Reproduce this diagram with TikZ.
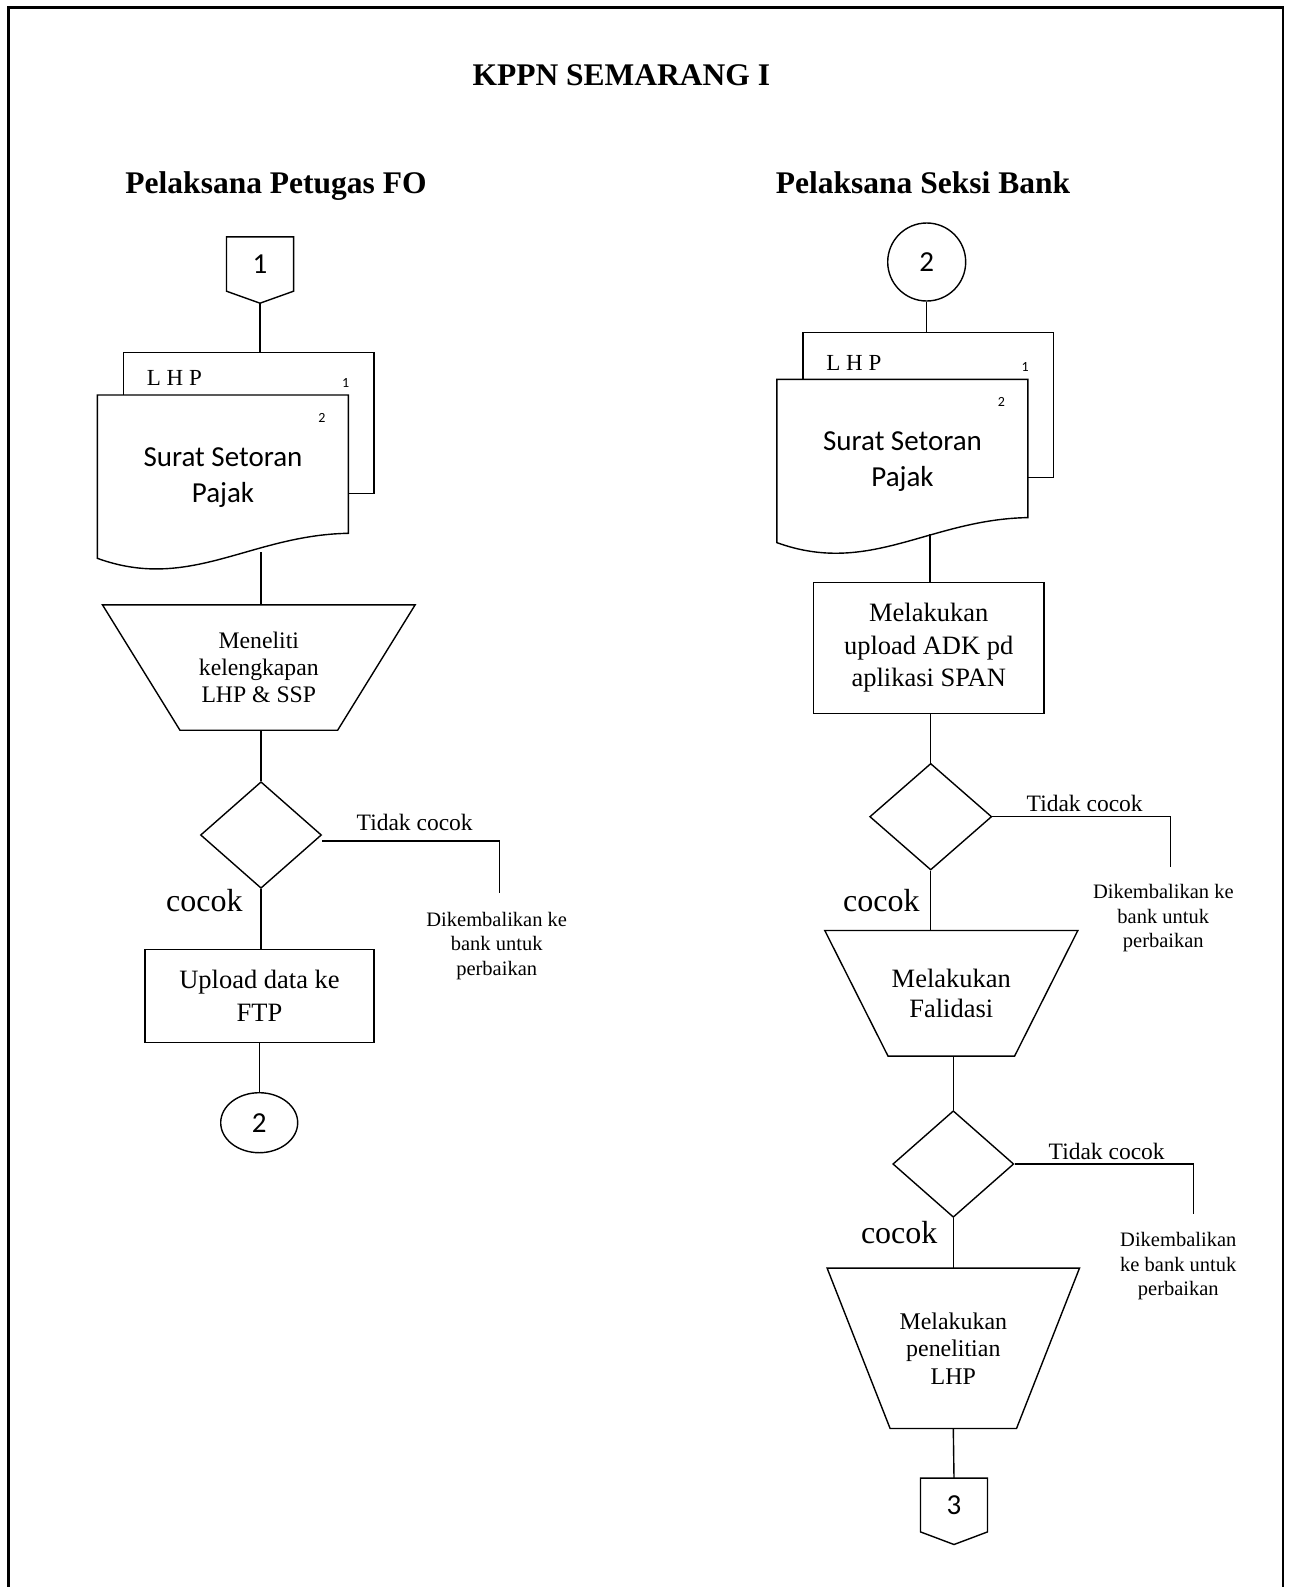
\documentclass[tikz,border=0pt]{standalone}
\usepackage{fontspec}
\setmainfont{Liberation Serif}
\newfontfamily\calibri{Carlito}
\usetikzlibrary{calc,shapes.geometric}
\tikzset{
  flow/.style={line width=1.4pt, draw=black},
  pageframe/.style={line width=2.4pt, draw=black},
  title/.style={inner sep=0pt, font=\fontsize{31.5}{36}\selectfont\bfseries},
  proc/.style={rectangle, draw=black, line width=1.4pt, inner sep=0pt, align=center,
    font=\fontsize{26.5}{32.5}\selectfont},
  trapbox/.style={rectangle, inner sep=0pt, align=center},
  decide/.style={diamond, draw=black, line width=1.4pt, inner sep=0pt,
    minimum width=121pt, minimum height=106.6pt},
  conn/.style={draw=black, line width=1.4pt, inner sep=0pt, font=\calibri\fontsize{29}{32}\selectfont},
  offpage/.style={rectangle, inner sep=0pt, minimum width=66.7pt, minimum height=54pt,
    font=\calibri\fontsize{29}{32}\selectfont},
  doctext/.style={inner sep=0pt, align=center, font=\calibri\fontsize{29}{36}\selectfont},
  pagenum/.style={inner sep=0pt, font=\calibri\fontsize{14}{16}\selectfont},
  lhp/.style={inner sep=0pt, font=\fontsize{23}{26}\selectfont},
  lbl/.style={inner sep=0pt, font=\fontsize{23.5}{27}\selectfont},
  yes/.style={inner sep=0pt, font=\fontsize{32}{36}\selectfont},
  note/.style={inner sep=0pt, align=center, font=\fontsize{20.5}{24.5}\selectfont}
}
\newcommand{\DrawTrap}[2]{% node, inset of the bottom edge
  \draw[flow] (#1.north west) -- (#1.north east) -- ($(#1.south east)+(-#2,0)$)
    -- ($(#1.south west)+(#2,0)$) -- cycle;
}
\newcommand{\DrawOffPage}[2]{% node, depth of the point
  \coordinate (#1-tip) at ($(#1.south)+(0,#2)$);
  \draw[flow] (#1.north west) -- (#1.north east) -- (#1.south east) -- (#1-tip)
    -- (#1.south west) -- cycle;
}
\newcommand{\DrawDocs}[4]{% name, dx, dy, lift of the back sheet
  \begin{scope}[shift={(#2,#3)}]
    \coordinate (#1-back) at (123.3,{352.7-#4});
    \draw[flow] (123.3,395) -- (#1-back) -- (374,{352.7-#4}) -- (374,493.3) -- (348.3,493.3);
    \draw[flow, fill=white] (97.3,395) -- (348.3,395) -- (348.3,533.3)
      .. controls (250,535) and (190,592) .. (97.3,558.3) -- cycle;
    \node[lhp, anchor=base west] (#1-lhp) at (146.7,385.7) {L H P};
    \node[pagenum] (#1-n1) at (345.7,382.7) {1};
    \node[pagenum] (#1-n2) at (322,418) {2};
    \node[doctext] (#1-txt) at (223,477.5) {Surat Setoran\\Pajak};
  \end{scope}
}

\begin{document}
\begin{tikzpicture}[x=1pt, y=-1pt]
  \useasboundingbox (0,0) rectangle (1288,1587);
  \draw[pageframe] (8.5,1595) -- (8.5,7.5) -- (1283,7.5) -- (1283,1595);

  % Headings
  \node[title, anchor=base] (head) at (621.3,85) {KPPN SEMARANG I};
  \node[title, anchor=base] (headfo) at (276,193) {Pelaksana Petugas FO};
  \node[title, anchor=base] (headsb) at (923,193) {Pelaksana Seksi Bank};

  % Pelaksana Petugas FO
  \node[offpage] (op1) at (260,264) {1};
  \DrawOffPage{op1}{12}
  \DrawDocs{fo}{0}{0}{0}
  \coordinate (fo-out) at (261,552);
  \node[trapbox, minimum width=312.3pt, minimum height=125pt,
    font=\fontsize{23.7}{27}\selectfont] (t1) at (258.8,667.5) {Meneliti\\kelengkapan\\LHP \& SSP};
  \DrawTrap{t1}{77.5}
  \node[decide] (d1) at (261,835) {};
  \node[proc, minimum width=229pt, minimum height=93.4pt] (b1) at (259.5,996) {Upload data ke\\FTP};
  \node[conn, ellipse, minimum width=77pt, minimum height=60pt] (e1) at (259.2,1122.7) {2};
  \coordinate (fo-ret) at (499.3,893.3);
  \draw[flow] (op1-tip) -- (op1-tip |- fo-back);
  \draw[flow] (fo-out) -- (fo-out |- t1.north);
  \draw[flow] (d1.north |- t1.south) -- (d1.north);
  \draw[flow] (d1.south) -- (d1.south |- b1.north);
  \draw[flow] (e1.north |- b1.south) -- (e1.north);
  \draw[flow] ([yshift=-6pt]d1.east) -| (fo-ret);
  \node[lbl, anchor=base] (fo-no) at (414.7,830) {Tidak cocok};
  \node[yes, anchor=base] (fo-yes) at (204.3,911.7) {cocok};
  \node[note] (fo-note) at (496.7,946) {Dikembalikan ke\\bank untuk\\perbaikan};

  % Pelaksana Seksi Bank
  \node[conn, circle, minimum size=78pt] (c2) at (926.7,262) {2};
  \DrawDocs{sb}{679.5}{-15.7}{4.3}
  \coordinate (sb-out) at (930,534);
  \node[proc, minimum width=230.7pt, minimum height=130.6pt] (b2) at (928.7,648)
    {Melakukan\\upload ADK pd\\aplikasi SPAN};
  \node[decide, minimum width=122pt] (d2) at (930.7,816.7) {};
  \node[trapbox, minimum width=252.7pt, minimum height=125.3pt,
    font=\fontsize{26.5}{30.5}\selectfont] (t2) at (951.3,993.3) {Melakukan\\Falidasi};
  \DrawTrap{t2}{63.3}
  \node[decide] (d3) at (953.3,1164) {};
  \node[trapbox, minimum width=252pt, minimum height=160pt,
    font=\fontsize{23.9}{27.5}\selectfont] (t3) at (953.3,1348.3) {Melakukan\\penelitian\\LHP};
  \DrawTrap{t3}{63}
  \node[offpage, minimum width=66.6pt, minimum height=53.4pt] (op3) at (954,1505) {3};
  \DrawOffPage{op3}{12.6}
  \coordinate (sb-ret1) at (1170.7,866.7);
  \coordinate (sb-ret2) at (1193.3,1214);
  \draw[flow] (c2.south) -- (c2.south |- sb-back);
  \draw[flow] (sb-out) -- (sb-out |- b2.north);
  \draw[flow] (d2.north |- b2.south) -- (d2.north);
  \draw[flow] (d2.south) -- (d2.south |- t2.north);
  \draw[flow] (d3.north |- t2.south) -- (d3.north);
  \draw[flow] (d3.south) -- (d3.south |- t3.north);
  \draw[flow] (t3.south) -- (op3.north);
  \draw[flow] (d2.east) -| (sb-ret1);
  \draw[flow] (d3.east) -| (sb-ret2);
  \node[lbl, anchor=base] (sb-no1) at (1084.7,811.7) {Tidak cocok};
  \node[yes, anchor=base] (sb-yes1) at (881.3,911.7) {cocok};
  \node[note] (sb-note1) at (1163.3,918.3) {Dikembalikan ke\\bank untuk\\perbaikan};
  \node[lbl, anchor=base] (sb-no2) at (1106.7,1159.3) {Tidak cocok};
  \node[yes, anchor=base] (sb-yes2) at (899.2,1243.3) {cocok};
  \node[note] (sb-note2) at (1178.3,1266.3) {Dikembalikan\\ke bank untuk\\perbaikan};
\end{tikzpicture}
\end{document}
